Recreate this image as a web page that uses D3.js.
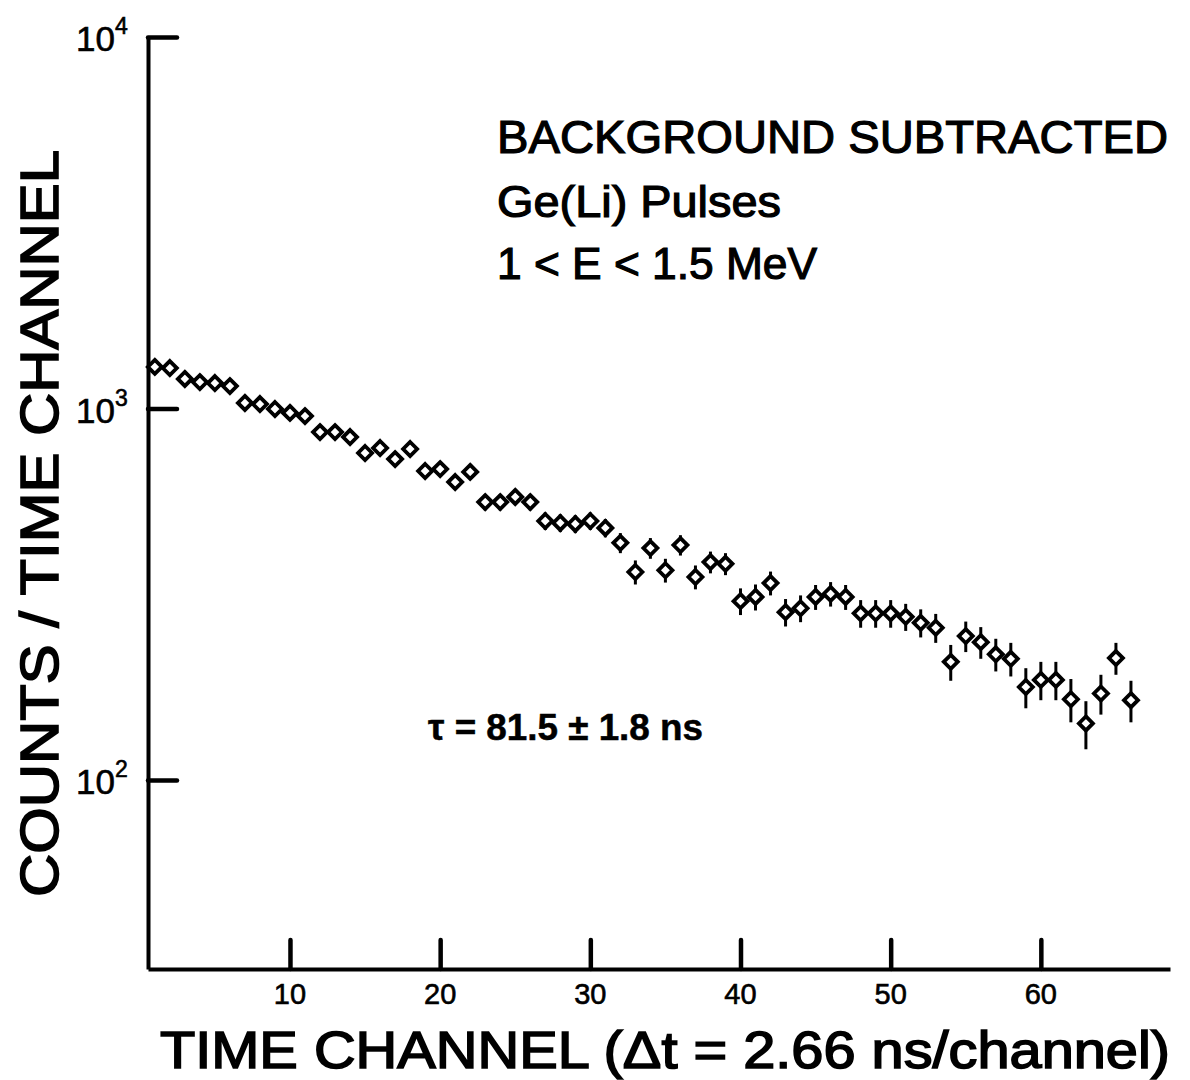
<!DOCTYPE html>
<html>
<head>
<meta charset="utf-8">
<script src="https://cdn.jsdelivr.net/npm/d3@7"></script>
<style>
  body { margin: 0; background: #fff; }
  svg { display: block; }
  text { font-family: "Liberation Sans", "DejaVu Sans", sans-serif; fill: #000; stroke: #000; stroke-width: 1.2px; }
</style>
</head>
<body>
<div id="chart"></div>
<script>
// time channel numbers
const channels = d3.range(1, 67);

// counts per time channel
const counts = [
  1294, 1285, 1201, 1178, 1171, 1149, 1035, 1028, 997, 973,
  954, 864, 864, 838, 759, 783, 731, 778, 679, 687,
  634, 675, 560, 560, 578, 560, 498, 492, 489, 498,
  477, 435, 363, 421, 367, 429, 352, 386, 382, 303,
  311, 339, 283, 290, 311, 317, 311, 281, 281, 281,
  275, 265, 257, 208, 244, 235, 218, 212, 178, 186,
  186, 165, 142, 171, 213, 164
];

// statistical error on each count
const errors = [
  38, 38, 37, 36, 36, 36, 34, 34, 33, 33,
  33, 31, 30, 30, 29, 29, 29, 29, 28, 28,
  28, 28, 28, 28, 28, 28, 27, 27, 27, 27,
  27, 27, 27, 27, 27, 27, 26, 26, 26, 25,
  25, 25, 24, 24, 24, 24, 24, 24, 24, 24,
  23, 23, 23, 23, 23, 23, 22, 22, 22, 22,
  22, 22, 21, 21, 21, 21
];

const xTicks = [10, 20, 30, 40, 50, 60];
const yTicks = [100, 1000, 10000];
const yTickExp = ["2", "3", "4"];

const width = 1190, height = 1080;
const m = {left: 148, right: 1170, top: 37, bottom: 969};

const svg = d3.select("#chart").append("svg")
  .attr("width", width)
  .attr("height", height);

const x = d3.scaleLinear().domain([0.546, 68.6]).range([m.left, m.right]);
const y = d3.scaleLog().domain([31, 10000]).range([m.bottom, m.top]);

// axes: ticks point inward
const gx = svg.append("g")
  .attr("transform", `translate(0,${m.bottom})`)
  .call(d3.axisBottom(x).tickValues(xTicks).tickSize(-29).tickSizeOuter(0).tickFormat(""));
const gy = svg.append("g")
  .attr("transform", `translate(${m.left},0)`)
  .call(d3.axisLeft(y).tickValues(yTicks).tickSize(-29).tickSizeOuter(0).tickFormat(""));

[gx, gy].forEach(g => {
  g.select(".domain").attr("stroke", "#000").attr("stroke-width", 4);
  g.selectAll(".tick line").attr("stroke", "#000").attr("stroke-width", 4.5).attr("stroke-linecap", "round");
});

// x tick labels
svg.selectAll(".xlab")
  .data(xTicks)
  .enter()
  .append("text")
  .attr("class", "xlab")
  .attr("x", d => x(d))
  .attr("y", 1004)
  .attr("text-anchor", "middle")
  .attr("font-size", 29)
  .style("stroke-width", "0.6px")
  .text(d => d);

// y tick labels with powers of ten
yTicks.forEach((d, i) => {
  const t = svg.append("text")
    .attr("x", 76)
    .attr("y", y(d) + 14)
    .attr("font-size", 35)
    .style("stroke-width", "0.6px");
  t.append("tspan").text("10");
  t.append("tspan").attr("dy", -17).attr("font-size", 23).text(yTickExp[i]);
});

const pts = channels.map((c, i) => ({c: c, v: counts[i], e: errors[i]}));

// error bars
svg.selectAll(".err")
  .data(pts)
  .enter()
  .append("line")
  .attr("class", "err")
  .attr("x1", d => x(d.c))
  .attr("x2", d => x(d.c))
  .attr("y1", d => y(d.v + d.e))
  .attr("y2", d => y(d.v - d.e))
  .attr("stroke", "#000")
  .attr("stroke-width", 3);

// diamond markers
const s = 7;
svg.selectAll(".pt")
  .data(pts)
  .enter()
  .append("path")
  .attr("class", "pt")
  .attr("d", d => {
    const cx = x(d.c), cy = y(d.v);
    return `M${cx},${cy - s}L${cx + s},${cy}L${cx},${cy + s}L${cx - s},${cy}Z`;
  })
  .attr("fill", "#fff")
  .attr("stroke", "#000")
  .attr("stroke-width", 3.8);

// annotations
svg.append("text")
  .attr("x", 497).attr("y", 153)
  .attr("font-size", 46)
  .attr("textLength", 671).attr("lengthAdjust", "spacingAndGlyphs")
  .text("BACKGROUND  SUBTRACTED");

svg.append("text")
  .attr("x", 497).attr("y", 217)
  .attr("font-size", 44)
  .attr("textLength", 284).attr("lengthAdjust", "spacingAndGlyphs")
  .text("Ge(Li) Pulses");

svg.append("text")
  .attr("x", 497).attr("y", 279)
  .attr("font-size", 44)
  .attr("textLength", 320).attr("lengthAdjust", "spacingAndGlyphs")
  .text("1 < E < 1.5 MeV");

svg.append("text")
  .attr("x", 428).attr("y", 740)
  .attr("font-size", 36)
  .attr("font-weight", "bold")
  .style("stroke-width", "0.5px")
  .attr("textLength", 275).attr("lengthAdjust", "spacingAndGlyphs")
  .text("τ = 81.5 ± 1.8 ns");

// axis titles
svg.append("text")
  .attr("transform", "translate(58,897) rotate(-90)")
  .attr("font-size", 54)
  .style("stroke-width", "1.6px")
  .attr("textLength", 747).attr("lengthAdjust", "spacingAndGlyphs")
  .text("COUNTS / TIME  CHANNEL");

svg.append("text")
  .attr("x", 160).attr("y", 1068)
  .attr("font-size", 52)
  .style("stroke-width", "1.6px")
  .attr("textLength", 1010).attr("lengthAdjust", "spacingAndGlyphs")
  .text("TIME  CHANNEL  (Δt = 2.66 ns/channel)");
</script>
</body>
</html>
